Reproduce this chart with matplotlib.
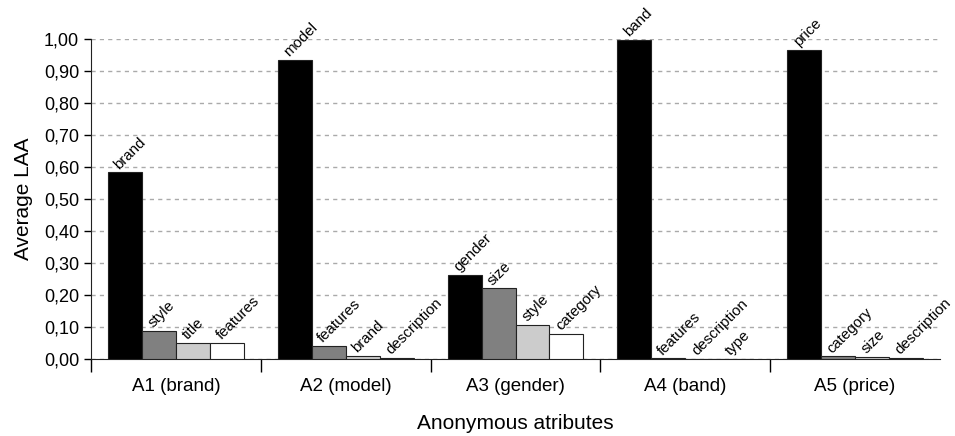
import matplotlib.pyplot as plt
import numpy as np

plt.rcParams['font.family'] = ['Liberation Sans', 'DejaVu Sans']

groups = ['A1 (brand)', 'A2 (model)', 'A3 (gender)', 'A4 (band)', 'A5 (price)']
bar_names = [
    ['brand', 'style', 'title', 'features'],
    ['model', 'features', 'brand', 'description'],
    ['gender', 'size', 'style', 'category'],
    ['band', 'features', 'description', 'type'],
    ['price', 'category', 'size', 'description'],
]
bar_values = [
    [0.583, 0.088, 0.051, 0.050],
    [0.935, 0.042, 0.010, 0.003],
    [0.263, 0.221, 0.106, 0.078],
    [0.996, 0.002, 0.001, 0.001],
    [0.967, 0.008, 0.006, 0.004],
]
colors = ['#000000', '#808080', '#cccccc', '#ffffff']

fig = plt.figure(figsize=(9.55, 4.36), dpi=100)
ax = fig.add_axes([0.0953, 0.1766, 0.8890, 0.7340])

w = 0.2
for g in range(len(groups)):
    for i in range(4):
        x = g + 0.5 + (i - 1.5) * w
        v = bar_values[g][i]
        ax.bar(x, v, width=w, color=colors[i], edgecolor='#222222', linewidth=0.8, zorder=3)
        ax.text(x - 0.02, v + 0.002, bar_names[g][i], rotation=45, rotation_mode='anchor',
                ha='left', va='bottom', fontsize=10.8, zorder=4)

ax.set_xlim(0, 5)
ax.set_ylim(0, 1.0)
ax.set_yticks(np.arange(0, 1.01, 0.1))
ax.set_yticklabels([f"{t:.2f}".replace('.', ',') for t in np.arange(0, 1.01, 0.1)], fontsize=13)
ax.set_xticks(range(5))
ax.set_xticklabels([])
ax.set_xticks(np.arange(5) + 0.5, minor=True)
ax.set_xticklabels(groups, minor=True, fontsize=13.5)
ax.tick_params(axis='x', which='major', length=9, width=1)
ax.tick_params(axis='x', which='minor', length=0, pad=14)
ax.tick_params(axis='y', length=5, width=1)
ax.yaxis.grid(True, linestyle=(0, (3, 3)), color='#aaaaaa', linewidth=1, zorder=0)
ax.set_axisbelow(True)
for s in ['top', 'right']:
    ax.spines[s].set_visible(False)
ax.spines['left'].set_color('#222222')
ax.spines['bottom'].set_color('#222222')

ax.set_ylabel('Average LAA', fontsize=15, labelpad=8)
ax.set_xlabel('Anonymous atributes', fontsize=15, labelpad=13)

plt.savefig('out.png', dpi=100)
